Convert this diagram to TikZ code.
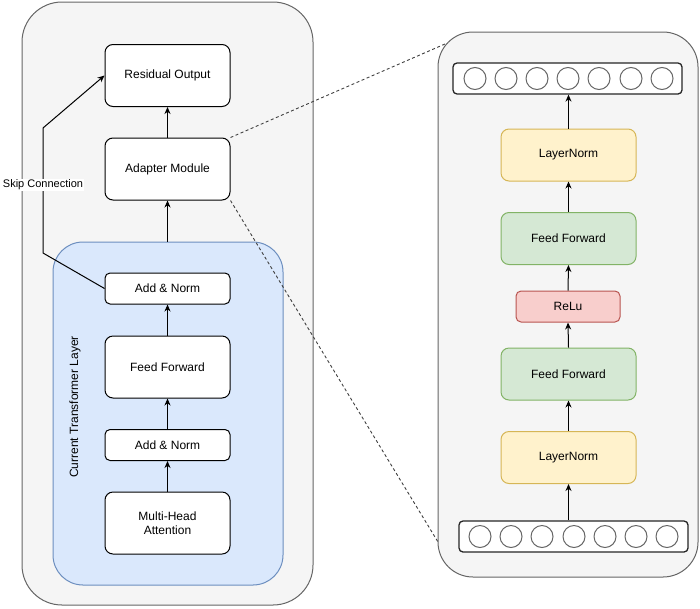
\documentclass[tikz,border=0pt]{standalone}
\usepackage{fontspec}
\setmainfont{Liberation Sans}
\usetikzlibrary{arrows.meta,positioning}
\definecolor{grayfill}{HTML}{F5F5F5}
\definecolor{graystroke}{HTML}{666666}
\definecolor{bluefill}{HTML}{DAE8FC}
\definecolor{bluestroke}{HTML}{6C8EBF}
\definecolor{yelfill}{HTML}{FFF2CC}
\definecolor{yelstroke}{HTML}{D6B656}
\definecolor{grnfill}{HTML}{D5E8D4}
\definecolor{grnstroke}{HTML}{82B366}
\definecolor{redfill}{HTML}{F8CECC}
\definecolor{redstroke}{HTML}{B85450}
\tikzset{
  txt/.style={font=\fontsize{12}{14}\selectfont, align=center},
  bigbox/.style={txt, draw=black, fill=white, line width=1pt, rounded corners=8pt, minimum width=125pt, minimum height=62pt, inner sep=0pt},
  smallbox/.style={txt, draw=black, fill=white, line width=1pt, rounded corners=5pt, minimum width=125pt, minimum height=31pt, inner sep=0pt},
  ylbox/.style={txt, draw=yelstroke, fill=yelfill, line width=1pt, rounded corners=8pt, minimum width=135pt, minimum height=52pt, inner sep=0pt},
  gnbox/.style={txt, draw=grnstroke, fill=grnfill, line width=1pt, rounded corners=8pt, minimum width=135pt, minimum height=52pt, inner sep=0pt},
  rdbox/.style={txt, draw=redstroke, fill=redfill, line width=1pt, rounded corners=5pt, minimum width=104pt, minimum height=31pt, inner sep=0pt},
  rowbox/.style={draw=black!85, fill=white, line width=1.3pt, rounded corners=4pt, minimum width=229pt, minimum height=31pt, inner sep=0pt},
  neuron/.style={circle, draw=graystroke, fill=white, line width=1pt, minimum size=22pt, inner sep=0pt},
  flow/.style={-{Stealth[length=7pt,width=6pt]}, line width=1pt, black},
  zoomline/.style={dashed, dash pattern=on 3pt off 2.5pt, line width=0.9pt, black!75},
}
\begin{document}
\begin{tikzpicture}[x=1pt,y=-1pt]
\useasboundingbox (0,0) rectangle (700,608);
% containers
\draw[draw=graystroke, fill=grayfill, line width=1pt, rounded corners=40pt] (22,2) rectangle (313,605);
\draw[draw=graystroke, fill=grayfill, line width=1pt, rounded corners=35pt] (438,32) rectangle (698,577);
\node[draw=bluestroke, fill=bluefill, line width=1pt, rounded corners=30pt, minimum width=230pt, minimum height=343pt, inner sep=0pt] (layer) at (168,413.5) {};
\node[txt, rotate=90] (layerlbl) at (75,407) {Current Transformer Layer};
% left nodes
\node[bigbox] (res) at (167.5,75.5) {Residual Output};
\node[bigbox] (adp) at (167.5,169) {Adapter Module};
\node[smallbox] (an1) at (167.5,288.5) {Add \& Norm};
\node[bigbox] (ff) at (167.5,367) {Feed Forward};
\node[smallbox] (an2) at (167.5,445) {Add \& Norm};
\node[bigbox] (mha) at (167.5,523) {Multi-Head\\Attention};
% left arrows
\draw[flow] (adp.north) -- (res.south);
\draw[flow] (layer.north -| adp.south) -- (adp.south);
\draw[flow] (ff.north) -- (an1.south);
\draw[flow] (an2.north) -- (ff.south);
\draw[flow] (mha.north) -- (an2.south);
% skip connection
\coordinate (s1) at (43,253);
\coordinate (s2) at (43,128);
\draw[flow] (an1.west) -- (s1) -- (s2) -- (res.west);
\node[font=\fontsize{11}{13}\selectfont, fill=white, inner sep=1pt] (skip) at (43,185) {Skip Connection};
% right nodes
\node[rowbox] (top) at (567.5,78.5) {};
\foreach \i/\x in {1/475,2/506,3/537,4/568,5/599,6/631,7/662} {
  \node[neuron] (t\i) at (\x,78.5) {};
}
\node[ylbox] (ln2) at (568.5,155) {LayerNorm};
\node[gnbox] (ff2) at (568.5,238.5) {Feed Forward};
\node[rdbox] (relu) at (568,306.5) {ReLu};
\node[gnbox] (ff1) at (568.5,374) {Feed Forward};
\node[ylbox] (ln1) at (568.5,457.5) {LayerNorm};
\node[rowbox] (bot) at (573.5,536.5) {};
\foreach \i/\x in {1/480,2/511,3/542,4/574,5/605,6/636,7/667} {
  \node[neuron] (b\i) at (\x,536.5) {};
}
% right arrows
\draw[flow] (ln2.north) -- (ln2.north |- top.south);
\draw[flow] (ff2.north) -- (ln2.south);
\draw[flow] (relu.north) -- (ff2.south);
\draw[flow] (ff1.north) -- (relu.south);
\draw[flow] (ln1.north) -- (ff1.south);
\draw[flow] (ln1.south |- bot.north) -- (ln1.south);
% zoom lines
\coordinate (z1) at (445,44);
\coordinate (z2) at (438,542);
\draw[zoomline] (adp.north east) -- (z1);
\draw[zoomline] (adp.south east) -- (z2);
\end{tikzpicture}
\end{document}
